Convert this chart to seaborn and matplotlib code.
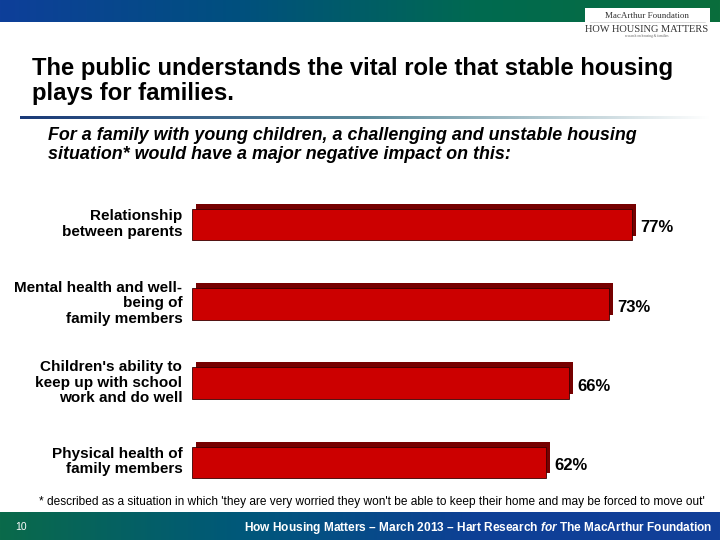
import numpy as np
import pandas as pd
import matplotlib
matplotlib.use("Agg")
import matplotlib.pyplot as plt
import matplotlib.patheffects as pe
from matplotlib.patches import Rectangle
from matplotlib.colors import LinearSegmentedColormap
from matplotlib.transforms import ScaledTranslation
import seaborn as sns

# Data
categories = [
    "Relationship\nbetween parents",
    "Mental health and well-\nbeing of\nfamily members",
    "Children's ability to\nkeep up with school\nwork and do well",
    "Physical health of\nfamily members",
]
values = [77, 73, 66, 62]
value_labels = ["77%", "73%", "66%", "62%"]

title = "The public understands the vital role that stable housing\nplays for families."
subtitle = ("For a family with young children, a challenging and unstable housing\n"
            "situation* would have a major negative impact on this:")
footnote = ("* described as a situation in which 'they are very worried they won't be able "
            "to keep their home and may be forced to move out'")
footer = r"How Housing Matters – March 2013 – Hart Research $\mathit{for}$ The MacArthur Foundation"
page_no = "10"

sns.set_theme(style="white")
plt.rcParams["font.family"] = ["Liberation Sans", "DejaVu Sans"]
plt.rcParams["mathtext.fontset"] = "custom"
plt.rcParams["mathtext.it"] = "Liberation Sans:italic:bold"

W, H = 720, 540
fig = plt.figure(figsize=(7.2, 5.4), dpi=100)
fig.patch.set_facecolor("white")


def band(y0, h, colors):
    # gradient band in pixel coords (top-left origin)
    bax = fig.add_axes([0, 1 - (y0 + h) / H, 1, h / H])
    cmap = LinearSegmentedColormap.from_list("band", colors)
    bax.imshow(np.linspace(0, 1, 256)[None, :], aspect="auto", cmap=cmap,
               extent=[0, 1, 0, 1])
    bax.set_axis_off()
    return bax


band(0, 22, ["#0e3f9a", "#00507e", "#006a50", "#0a6e3c"])
band(512, 28, ["#0a6a4a", "#00587a", "#0e3f96", "#12409a"])

# separator line under title, fading blue -> white
sep = fig.add_axes([20 / W, 1 - 119 / H, 690 / W, 3 / H])
sep.imshow(np.linspace(0, 1, 256)[None, :], aspect="auto",
           cmap=LinearSegmentedColormap.from_list("sep", ["#1a3a78", "#5a8a9a", "#ffffff"]),
           extent=[0, 1, 0, 1])
sep.set_axis_off()

# logo box
fig.patches.append(Rectangle((585 / W, 1 - 38 / H), 125 / W, 30 / H,
                             transform=fig.transFigure, facecolor="white",
                             edgecolor="none"))
fig.text(647 / W, 1 - 16 / H, "MacArthur Foundation", ha="center", va="center",
         fontsize=6.5, family="Liberation Serif", color="#333333")
fig.lines.append(plt.Line2D([590 / W, 705 / W], [1 - 22 / H, 1 - 22 / H],
                            transform=fig.transFigure, color="#cccccc", lw=0.5))
fig.text(647 / W, 1 - 29 / H, "HOW HOUSING MATTERS", ha="center", va="center",
         fontsize=7.5, family="Liberation Serif", color="#333333")
fig.text(647 / W, 1 - 36 / H, "research on housing & families", ha="center",
         va="center", fontsize=2.5, family="Liberation Serif", color="#666666")

# titles
fig.text(32 / W, 1 - 57 / H, title, ha="left", va="top", fontsize=17.2,
         fontweight="bold", color="black", linespacing=1.12)
fig.text(48 / W, 1 - 127 / H, subtitle, ha="left", va="top", fontsize=12.9,
         fontweight="bold", style="italic", color="black", linespacing=1.15)

# bar chart
ax = fig.add_axes([192 / W, 1 - 502 / H, 514 / W, 317 / H])
df = pd.DataFrame({"item": categories, "pct": values})
sns.barplot(data=df, x="pct", y="item", color="#cc0000", saturation=1,
            width=0.40, ax=ax, orient="h")
ax.set_xlim(0, 90)
ax.set_ylim(3.5, -0.5)
for bar in ax.patches:
    bar.set_edgecolor("#3a0000")
    bar.set_linewidth(0.6)
    bar.set_path_effects([
        pe.SimplePatchShadow(offset=(3, 3.5), shadow_rgbFace="#760000", alpha=1),
        pe.Normal(),
    ])
for i, (v, lab) in enumerate(zip(values, value_labels)):
    ax.text(v + 1.4, i + 0.04, lab, ha="left", va="center", fontsize=12,
            fontweight="bold", color="black")

ax.set_xlabel("")
ax.set_ylabel("")
ax.set_xticks([])
ax.tick_params(axis="y", length=0, pad=7, labelsize=11, labelcolor="black")
for s in ax.spines.values():
    s.set_visible(False)
ax.set_facecolor("none")
for t in ax.get_yticklabels():
    t.set_fontweight("bold")
    t.set_linespacing(1.12)
    t.set_transform(t.get_transform() + ScaledTranslation(0, 2 / 72, fig.dpi_scale_trans))

# footnote and footer
fig.text(705 / W, 1 - 502 / H, footnote, ha="right", va="center", fontsize=8.6,
         color="black")
fig.text(15 / W, 1 - 527 / H, page_no, ha="left", va="center", fontsize=7.5,
         color="white")
fig.text(712 / W, 1 - 528 / H, footer, ha="right", va="center", fontsize=8.6,
         fontweight="bold", color="white")

fig.savefig("out.png", dpi=100, facecolor="white")
